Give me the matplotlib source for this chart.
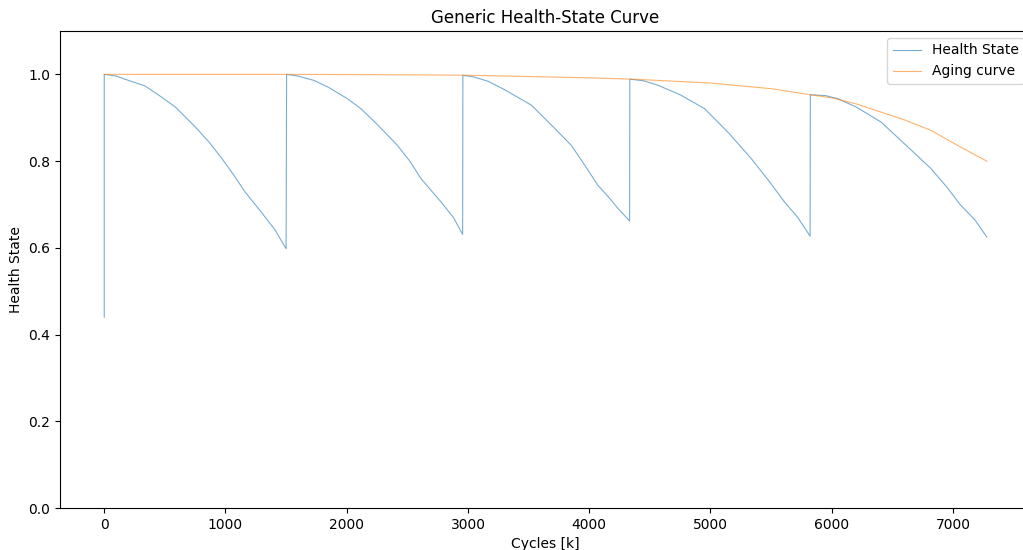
import matplotlib.pyplot as plt

# Health state per maintenance cycle (cycles in k, state 0..1)
start_cycle = [0]
start_state = [0.44]

cyc_1 = [0, 100, 200, 338, 450, 585, 750, 870, 970, 1070, 1161, 1299, 1409, 1500]
hs_1 = [1.0, 0.996, 0.986, 0.973, 0.952, 0.925, 0.879, 0.842, 0.806, 0.767, 0.729, 0.681, 0.641, 0.598]

cyc_2 = [1504, 1600, 1730, 1850, 2005, 2116, 2250, 2419, 2520, 2612, 2700, 2777, 2880, 2956]
hs_2 = [1.0, 0.996, 0.986, 0.970, 0.944, 0.921, 0.885, 0.836, 0.800, 0.760, 0.731, 0.706, 0.670, 0.631]

cyc_3 = [2958, 3050, 3166, 3300, 3523, 3700, 3853, 3960, 4072, 4160, 4237, 4333]
hs_3 = [0.998, 0.994, 0.984, 0.965, 0.929, 0.880, 0.836, 0.792, 0.744, 0.717, 0.691, 0.662]

cyc_4 = [4335, 4450, 4566, 4750, 4951, 5150, 5336, 5480, 5610, 5720, 5822]
hs_4 = [0.989, 0.985, 0.975, 0.953, 0.921, 0.865, 0.806, 0.755, 0.706, 0.670, 0.627]

cyc_5 = [5824, 5950, 6049, 6200, 6407, 6600, 6818, 6950, 7065, 7180, 7279]
hs_5 = [0.953, 0.951, 0.944, 0.925, 0.890, 0.840, 0.783, 0.740, 0.698, 0.665, 0.625]

# Upper envelope (aging curve)
aging_cycle = [0, 500, 1000, 1500, 2000, 2500, 3000, 3500, 4000, 4333, 4500, 5000,
               5500, 5824, 6000, 6200, 6407, 6600, 6818, 7065, 7279]
aging_state = [1.0, 1.0, 1.0, 1.0, 0.9995, 0.999, 0.998, 0.995, 0.992, 0.989, 0.987, 0.980,
               0.967, 0.953, 0.946, 0.932, 0.913, 0.895, 0.871, 0.832, 0.800]

cycles = start_cycle + cyc_1 + cyc_2 + cyc_3 + cyc_4 + cyc_5
health = start_state + hs_1 + hs_2 + hs_3 + hs_4 + hs_5

fig = plt.figure(figsize=(10.23, 5.5), dpi=100)
ax = fig.add_axes([60 / 1023, 42 / 550, 971 / 1023, 477 / 550])

ax.plot(cycles, health, lw=0.8, alpha=0.6, label='Health State')
ax.plot(aging_cycle, aging_state, lw=0.8, alpha=0.6, label='Aging curve')

ax.set_ylim(0, 1.1)
ax.set_xlim(-365, 7644)
ax.set_title('Generic Health-State Curve')
ax.set_xlabel('Cycles [k]')
ax.set_ylabel('Health State')
ax.legend(loc='upper right')

fig.savefig('out.png', dpi=100)
